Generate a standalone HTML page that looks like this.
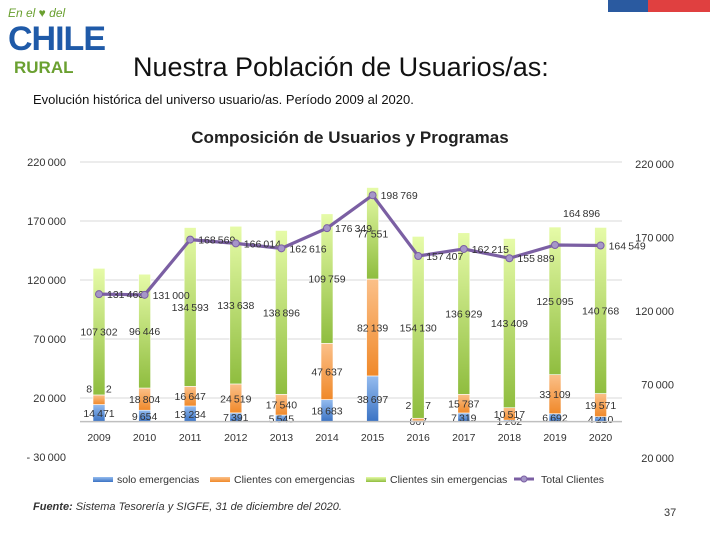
<!DOCTYPE html>
<html><head><meta charset="utf-8">
<style>
body{margin:0;background:#fff;font-family:"Liberation Sans",sans-serif;}
#wrap{position:relative;width:720px;height:540px;overflow:hidden;background:#fff;}
.t{position:absolute;white-space:nowrap;}
</style></head>
<body>
<div id="wrap">
  <div class="t" style="left:6px;top:2px;width:80px;height:80px;">
    <div class="t" style="left:2px;top:4px;font:italic 12px 'Liberation Sans',sans-serif;color:#6aa030;">En el ♥ del</div>
    <div class="t" style="left:2px;top:18px;font:bold 34px 'Liberation Sans',sans-serif;color:#1f5aa8;letter-spacing:-1px;">CHILE</div>
    <div class="t" style="left:8px;top:56px;font:bold 17px 'Liberation Sans',sans-serif;color:#6aa030;">RURAL</div>
  </div>
  <div class="t" style="left:608px;top:0;width:40px;height:12px;background:#2a5aa0;"></div>
  <div class="t" style="left:648px;top:0;width:62px;height:12px;background:#e04040;"></div>
  <div class="t" style="left:133px;top:52px;font-size:27px;color:#111;">Nuestra Población de Usuarios/as:</div>
  <div class="t" style="left:33px;top:92px;font-size:13px;color:#111;">Evolución histórica del universo usuario/as. Período 2009 al 2020.</div>
  <div class="t" style="left:33px;top:501px;font-size:11px;font-style:italic;color:#333;"><b>Fuente:</b> Sistema Tesorería y SIGFE, 31 de diciembre del 2020.</div>
  <div class="t" style="left:664px;top:507px;font-size:11px;color:#333;">37</div>
  <svg id="chart" width="720" height="540" style="position:absolute;left:0;top:0"></svg>
</div>
<script>
const years=["2009","2010","2011","2012","2013","2014","2015","2016","2017","2018","2019","2020"];
const solo=[14471,9654,13234,7391,5545,18683,38697,667,7319,1262,6692,4210];
const conEm=[8122,18804,16647,24519,17540,47637,82139,2167,15787,10517,33109,19571];
const sinEm=[107302,96446,134593,133638,138896,109759,77551,154130,136929,143409,125095,140768];
const total=[131463,131000,168569,166014,162616,176349,198769,157407,162215,155889,164896,164549];
const leftTicks=[220000,170000,120000,70000,20000,-30000];
const rightTicks=[220000,170000,120000,70000,20000];
const fmt=v=>{const s=Math.abs(v).toString().replace(/\B(?=(\d{3})+(?!\d))/g,"\u2009");return (v<0?"- ":"")+s;};
const svg=document.getElementById('chart');const NS="http://www.w3.org/2000/svg";
function mk(t,a,p){const e=document.createElementNS(NS,t);for(const k in a)e.setAttribute(k,a[k]);(p||svg).appendChild(e);return e;}
const yL=v=>421.6-(v/50000)*59;
const yR=v=>458-((v-20000)/50000)*73.5;
const xC=i=>99+i*45.6;
const defs=mk('defs',{});
[['gG','#e6fba8','#8fbd3f'],['gO','#fbc089','#f0892a'],['gB','#95bcef','#3b73c4']].forEach(g=>{const lg=mk('linearGradient',{id:g[0],x1:0,y1:0,x2:0,y2:1},defs);mk('stop',{offset:0,'stop-color':g[1]},lg);mk('stop',{offset:1,'stop-color':g[2]},lg);});
mk('text',{x:350,y:143,'text-anchor':'middle','font-size':17,'font-weight':'bold',fill:'#222'}).textContent="Composición de Usuarios y Programas";
leftTicks.forEach(v=>{const y=yL(v);
 if(v>-30000){const l=mk('line',{x1:80,x2:622,y1:y,y2:y,stroke:'#d9d9d9'});}
 const t=mk('text',{x:66,y:y+4,'text-anchor':'end','font-size':11,fill:'#333'});t.textContent=fmt(v);});
rightTicks.forEach(v=>{const t=mk('text',{x:674,y:yR(v)+4,'text-anchor':'end','font-size':11,fill:'#333'});t.textContent=fmt(v);});
const bw=12;
years.forEach((yr,i)=>{const x=xC(i);
 const segs=[[solo[i],'url(#gB)'],[conEm[i],'url(#gO)'],[sinEm[i],'url(#gG)']];let acc=0;
 segs.forEach((s,k)=>{const y0=yL(acc),y1=yL(acc+s[0]);acc+=s[0];
  const r=mk('rect',{x:x-bw/2,y:y1,width:bw,height:y0-y1,fill:s[1],stroke:'#fff','stroke-width':0.6});
  
  let ly=(y0+y1)/2+4; if(k==1&&y0-y1<10)ly=y0-12;
  const t=mk('text',{x:x,y:ly,'text-anchor':'middle','font-size':10.5,fill:'#333'});t.textContent=fmt(s[0]);
  });
 const t=mk('text',{x:x,y:441,'text-anchor':'middle','font-size':10.5,fill:'#333'});t.textContent=yr;
 });
mk('line',{x1:80,x2:622,y1:421.6,y2:421.6,stroke:'#bfbfbf','stroke-width':1.5});
const pts=total.map((v,i)=>xC(i)+','+yR(v)).join(' ');
const pl=mk('polyline',{points:pts,fill:'none',stroke:'#7b5fa3','stroke-width':3.2,'stroke-linejoin':'round'});

total.forEach((v,i)=>{const c=mk('circle',{cx:xC(i),cy:yR(v),r:3.5,fill:'#a596c8',stroke:'#7b5fa3'});
 
 const t=mk('text',{x:xC(i)+8,y:yR(v)+(i==10?-28:4),'font-size':10.5,fill:'#333'});t.textContent=fmt(v);
 });
const lg=[['solo emergencias','url(#gB)','r',117],['Clientes con emergencias','url(#gO)','r',234],['Clientes sin emergencias','url(#gG)','r',390],['Total Clientes','#7b5fa3','l',541]];
lg.forEach(e=>{const g=mk('g',{});
 if(e[2]=='r')mk('rect',{x:e[3]-24,y:477,width:20,height:5,fill:e[1]},g);
 else{mk('line',{x1:e[3]-27,x2:e[3]-7,y1:479,y2:479,stroke:e[1],'stroke-width':3},g);mk('circle',{cx:e[3]-17,cy:479,r:3,fill:'#a596c8',stroke:e[1]},g);}
 const t=mk('text',{x:e[3],y:483,'font-size':10.5,fill:'#333',textLength:0}, g);t.removeAttribute('textLength');t.textContent=e[0];});
</script>
</body></html>
